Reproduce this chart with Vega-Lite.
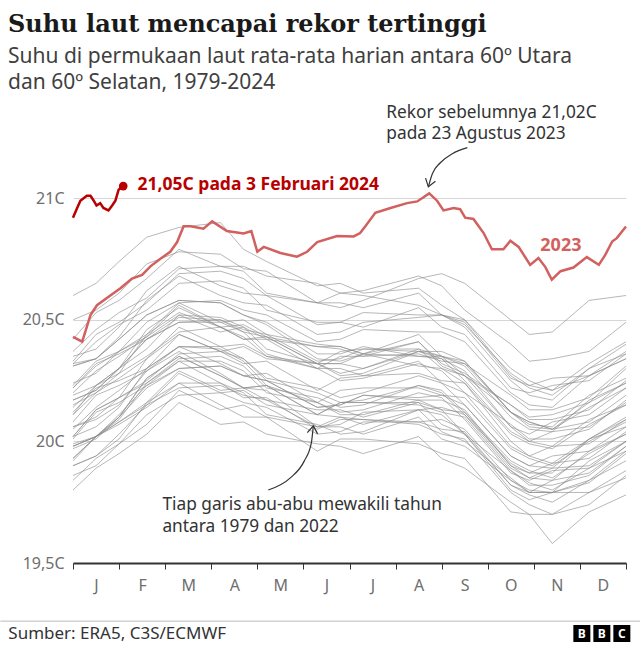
{
"$schema": "https://vega.github.io/schema/vega-lite/v6.json",
"width": 553, "height": 462,
"autosize": {"type": "none"},
"padding": {"left": 73, "top": 101, "right": 14, "bottom": 84},
"background": "white",
"title": {"text": "Suhu laut mencapai rekor tertinggi", "subtitle": ["Suhu di permukaan laut rata-rata harian antara 60º Utara", "dan 60º Selatan, 1979-2024"], "anchor": "start", "frame": "group", "dx": -65, "offset": 8, "font": "DejaVu Serif", "fontSize": 24, "fontWeight": "bold", "color": "#1a1a1a", "subtitleFont": "Noto Sans", "subtitleFontSize": 21, "subtitleColor": "#404040", "subtitleLineHeight": 26, "subtitlePadding": 9},
"config": {"view": {"stroke": null}, "font": "Noto Sans"},
"datasets": {
"gray": [
{"yr":1979,"m":0,"t":19.92},{"yr":1979,"m":1,"t":20.07},{"yr":1979,"m":2.3,"t":20.24},{"yr":1979,"m":3.2,"t":20.24},{"yr":1979,"m":4.2,"t":20.11},{"yr":1979,"m":5.3,"t":20.07},{"yr":1979,"m":6.3,"t":20.04},{"yr":1979,"m":7.5,"t":20.13},{"yr":1979,"m":8.5,"t":20.03},{"yr":1979,"m":9.5,"t":19.82},{"yr":1979,"m":10.4,"t":19.84},{"yr":1979,"m":11.2,"t":19.87},{"yr":1979,"m":12,"t":19.98},
{"yr":1980,"m":0,"t":19.98},{"yr":1980,"m":1,"t":20.10},{"yr":1980,"m":2.3,"t":20.35},{"yr":1980,"m":3.2,"t":20.27},{"yr":1980,"m":4.2,"t":20.23},{"yr":1980,"m":5.3,"t":20.11},{"yr":1980,"m":6.3,"t":20.16},{"yr":1980,"m":7.5,"t":20.15},{"yr":1980,"m":8.5,"t":20.10},{"yr":1980,"m":9.5,"t":19.88},{"yr":1980,"m":10.4,"t":19.80},{"yr":1980,"m":11.2,"t":19.89},{"yr":1980,"m":12,"t":19.96},
{"yr":1981,"m":0,"t":19.93},{"yr":1981,"m":1,"t":20.08},{"yr":1981,"m":2.3,"t":20.28},{"yr":1981,"m":3.2,"t":20.20},{"yr":1981,"m":4.2,"t":20.15},{"yr":1981,"m":5.3,"t":20.11},{"yr":1981,"m":6.3,"t":20.07},{"yr":1981,"m":7.5,"t":20.13},{"yr":1981,"m":8.5,"t":20.00},{"yr":1981,"m":9.5,"t":19.85},{"yr":1981,"m":10.4,"t":19.79},{"yr":1981,"m":11.2,"t":19.83},{"yr":1981,"m":12,"t":19.95},
{"yr":1982,"m":0,"t":19.90},{"yr":1982,"m":1,"t":20.03},{"yr":1982,"m":2.3,"t":20.22},{"yr":1982,"m":3.2,"t":20.23},{"yr":1982,"m":4.2,"t":20.17},{"yr":1982,"m":5.3,"t":20.06},{"yr":1982,"m":6.3,"t":20.12},{"yr":1982,"m":7.5,"t":20.13},{"yr":1982,"m":8.5,"t":20.11},{"yr":1982,"m":9.5,"t":19.91},{"yr":1982,"m":10.4,"t":19.87},{"yr":1982,"m":11.2,"t":20.01},{"yr":1982,"m":12,"t":20.10},
{"yr":1983,"m":0,"t":20.12},{"yr":1983,"m":1,"t":20.25},{"yr":1983,"m":2.3,"t":20.39},{"yr":1983,"m":3.2,"t":20.38},{"yr":1983,"m":4.2,"t":20.23},{"yr":1983,"m":5.3,"t":20.16},{"yr":1983,"m":6.3,"t":20.11},{"yr":1983,"m":7.5,"t":20.17},{"yr":1983,"m":8.5,"t":20.03},{"yr":1983,"m":9.5,"t":19.80},{"yr":1983,"m":10.4,"t":19.79},{"yr":1983,"m":11.2,"t":19.79},{"yr":1983,"m":12,"t":19.88},
{"yr":1984,"m":0,"t":19.90},{"yr":1984,"m":1,"t":20.01},{"yr":1984,"m":2.3,"t":20.24},{"yr":1984,"m":3.2,"t":20.15},{"yr":1984,"m":4.2,"t":20.10},{"yr":1984,"m":5.3,"t":19.96},{"yr":1984,"m":6.3,"t":20.01},{"yr":1984,"m":7.5,"t":19.99},{"yr":1984,"m":8.5,"t":19.93},{"yr":1984,"m":9.5,"t":19.71},{"yr":1984,"m":10.4,"t":19.58},{"yr":1984,"m":11.2,"t":19.71},{"yr":1984,"m":12,"t":19.78},
{"yr":1985,"m":0,"t":19.80},{"yr":1985,"m":1,"t":19.95},{"yr":1985,"m":2.3,"t":20.16},{"yr":1985,"m":3.2,"t":20.07},{"yr":1985,"m":4.2,"t":20.03},{"yr":1985,"m":5.3,"t":19.99},{"yr":1985,"m":6.3,"t":19.95},{"yr":1985,"m":7.5,"t":20.02},{"yr":1985,"m":8.5,"t":19.89},{"yr":1985,"m":9.5,"t":19.75},{"yr":1985,"m":10.4,"t":19.70},{"yr":1985,"m":11.2,"t":19.74},{"yr":1985,"m":12,"t":19.86},
{"yr":1986,"m":0,"t":19.86},{"yr":1986,"m":1,"t":19.99},{"yr":1986,"m":2.3,"t":20.19},{"yr":1986,"m":3.2,"t":20.20},{"yr":1986,"m":4.2,"t":20.14},{"yr":1986,"m":5.3,"t":20.03},{"yr":1986,"m":6.3,"t":20.08},{"yr":1986,"m":7.5,"t":20.08},{"yr":1986,"m":8.5,"t":20.05},{"yr":1986,"m":9.5,"t":19.84},{"yr":1986,"m":10.4,"t":19.79},{"yr":1986,"m":11.2,"t":19.92},{"yr":1986,"m":12,"t":20.00},
{"yr":1987,"m":0,"t":20.02},{"yr":1987,"m":1,"t":20.18},{"yr":1987,"m":2.3,"t":20.36},{"yr":1987,"m":3.2,"t":20.37},{"yr":1987,"m":4.2,"t":20.26},{"yr":1987,"m":5.3,"t":20.22},{"yr":1987,"m":6.3,"t":20.20},{"yr":1987,"m":7.5,"t":20.27},{"yr":1987,"m":8.5,"t":20.15},{"yr":1987,"m":9.5,"t":19.94},{"yr":1987,"m":10.4,"t":19.94},{"yr":1987,"m":11.2,"t":19.96},{"yr":1987,"m":12,"t":20.06},
{"yr":1988,"m":0,"t":20.06},{"yr":1988,"m":1,"t":20.15},{"yr":1988,"m":2.3,"t":20.37},{"yr":1988,"m":3.2,"t":20.28},{"yr":1988,"m":4.2,"t":20.21},{"yr":1988,"m":5.3,"t":20.06},{"yr":1988,"m":6.3,"t":20.09},{"yr":1988,"m":7.5,"t":20.07},{"yr":1988,"m":8.5,"t":20.01},{"yr":1988,"m":9.5,"t":19.79},{"yr":1988,"m":10.4,"t":19.70},{"yr":1988,"m":11.2,"t":19.79},{"yr":1988,"m":12,"t":19.85},
{"yr":1989,"m":0,"t":19.84},{"yr":1989,"m":1,"t":19.99},{"yr":1989,"m":2.3,"t":20.21},{"yr":1989,"m":3.2,"t":20.13},{"yr":1989,"m":4.2,"t":20.10},{"yr":1989,"m":5.3,"t":20.06},{"yr":1989,"m":6.3,"t":20.03},{"yr":1989,"m":7.5,"t":20.10},{"yr":1989,"m":8.5,"t":19.98},{"yr":1989,"m":9.5,"t":19.84},{"yr":1989,"m":10.4,"t":19.79},{"yr":1989,"m":11.2,"t":19.84},{"yr":1989,"m":12,"t":19.96},
{"yr":1990,"m":0,"t":19.98},{"yr":1990,"m":1,"t":20.11},{"yr":1990,"m":2.3,"t":20.30},{"yr":1990,"m":3.2,"t":20.31},{"yr":1990,"m":4.2,"t":20.25},{"yr":1990,"m":5.3,"t":20.14},{"yr":1990,"m":6.3,"t":20.19},{"yr":1990,"m":7.5,"t":20.17},{"yr":1990,"m":8.5,"t":20.13},{"yr":1990,"m":9.5,"t":19.90},{"yr":1990,"m":10.4,"t":19.84},{"yr":1990,"m":11.2,"t":19.96},{"yr":1990,"m":12,"t":20.03},
{"yr":1991,"m":0,"t":20.01},{"yr":1991,"m":1,"t":20.16},{"yr":1991,"m":2.3,"t":20.33},{"yr":1991,"m":3.2,"t":20.33},{"yr":1991,"m":4.2,"t":20.20},{"yr":1991,"m":5.3,"t":20.16},{"yr":1991,"m":6.3,"t":20.13},{"yr":1991,"m":7.5,"t":20.20},{"yr":1991,"m":8.5,"t":20.09},{"yr":1991,"m":9.5,"t":19.87},{"yr":1991,"m":10.4,"t":19.88},{"yr":1991,"m":11.2,"t":19.89},{"yr":1991,"m":12,"t":20.00},
{"yr":1992,"m":0,"t":19.99},{"yr":1992,"m":1,"t":20.09},{"yr":1992,"m":2.3,"t":20.33},{"yr":1992,"m":3.2,"t":20.24},{"yr":1992,"m":4.2,"t":20.18},{"yr":1992,"m":5.3,"t":20.05},{"yr":1992,"m":6.3,"t":20.09},{"yr":1992,"m":7.5,"t":20.08},{"yr":1992,"m":8.5,"t":20.04},{"yr":1992,"m":9.5,"t":19.82},{"yr":1992,"m":10.4,"t":19.75},{"yr":1992,"m":11.2,"t":19.84},{"yr":1992,"m":12,"t":19.92},
{"yr":1993,"m":0,"t":19.93},{"yr":1993,"m":1,"t":20.08},{"yr":1993,"m":2.3,"t":20.29},{"yr":1993,"m":3.2,"t":20.21},{"yr":1993,"m":4.2,"t":20.17},{"yr":1993,"m":5.3,"t":20.13},{"yr":1993,"m":6.3,"t":20.10},{"yr":1993,"m":7.5,"t":20.16},{"yr":1993,"m":8.5,"t":20.03},{"yr":1993,"m":9.5,"t":19.88},{"yr":1993,"m":10.4,"t":19.82},{"yr":1993,"m":11.2,"t":19.86},{"yr":1993,"m":12,"t":19.98},
{"yr":1994,"m":0,"t":19.97},{"yr":1994,"m":1,"t":20.10},{"yr":1994,"m":2.3,"t":20.30},{"yr":1994,"m":3.2,"t":20.31},{"yr":1994,"m":4.2,"t":20.25},{"yr":1994,"m":5.3,"t":20.14},{"yr":1994,"m":6.3,"t":20.19},{"yr":1994,"m":7.5,"t":20.18},{"yr":1994,"m":8.5,"t":20.15},{"yr":1994,"m":9.5,"t":19.94},{"yr":1994,"m":10.4,"t":19.89},{"yr":1994,"m":11.2,"t":20.01},{"yr":1994,"m":12,"t":20.09},
{"yr":1995,"m":0,"t":20.08},{"yr":1995,"m":1,"t":20.23},{"yr":1995,"m":2.3,"t":20.39},{"yr":1995,"m":3.2,"t":20.39},{"yr":1995,"m":4.2,"t":20.25},{"yr":1995,"m":5.3,"t":20.20},{"yr":1995,"m":6.3,"t":20.17},{"yr":1995,"m":7.5,"t":20.23},{"yr":1995,"m":8.5,"t":20.11},{"yr":1995,"m":9.5,"t":19.89},{"yr":1995,"m":10.4,"t":19.89},{"yr":1995,"m":11.2,"t":19.90},{"yr":1995,"m":12,"t":20.00},
{"yr":1996,"m":0,"t":19.98},{"yr":1996,"m":1,"t":20.10},{"yr":1996,"m":2.3,"t":20.35},{"yr":1996,"m":3.2,"t":20.27},{"yr":1996,"m":4.2,"t":20.23},{"yr":1996,"m":5.3,"t":20.11},{"yr":1996,"m":6.3,"t":20.16},{"yr":1996,"m":7.5,"t":20.16},{"yr":1996,"m":8.5,"t":20.12},{"yr":1996,"m":9.5,"t":19.92},{"yr":1996,"m":10.4,"t":19.85},{"yr":1996,"m":11.2,"t":19.95},{"yr":1996,"m":12,"t":20.03},
{"yr":1997,"m":0,"t":20.05},{"yr":1997,"m":1,"t":20.21},{"yr":1997,"m":2.3,"t":20.44},{"yr":1997,"m":3.2,"t":20.37},{"yr":1997,"m":4.2,"t":20.34},{"yr":1997,"m":5.3,"t":20.32},{"yr":1997,"m":6.3,"t":20.30},{"yr":1997,"m":7.5,"t":20.38},{"yr":1997,"m":8.5,"t":20.27},{"yr":1997,"m":9.5,"t":20.15},{"yr":1997,"m":10.4,"t":20.11},{"yr":1997,"m":11.2,"t":20.16},{"yr":1997,"m":12,"t":20.30},
{"yr":1998,"m":0,"t":20.32},{"yr":1998,"m":1,"t":20.42},{"yr":1998,"m":2.3,"t":20.58},{"yr":1998,"m":3.2,"t":20.57},{"yr":1998,"m":4.2,"t":20.48},{"yr":1998,"m":5.3,"t":20.34},{"yr":1998,"m":6.3,"t":20.36},{"yr":1998,"m":7.5,"t":20.31},{"yr":1998,"m":8.5,"t":20.24},{"yr":1998,"m":9.5,"t":20.00},{"yr":1998,"m":10.4,"t":19.91},{"yr":1998,"m":11.2,"t":20.01},{"yr":1998,"m":12,"t":20.06},
{"yr":1999,"m":0,"t":20.02},{"yr":1999,"m":1,"t":20.18},{"yr":1999,"m":2.3,"t":20.34},{"yr":1999,"m":3.2,"t":20.35},{"yr":1999,"m":4.2,"t":20.22},{"yr":1999,"m":5.3,"t":20.18},{"yr":1999,"m":6.3,"t":20.15},{"yr":1999,"m":7.5,"t":20.23},{"yr":1999,"m":8.5,"t":20.12},{"yr":1999,"m":9.5,"t":19.90},{"yr":1999,"m":10.4,"t":19.91},{"yr":1999,"m":11.2,"t":19.93},{"yr":1999,"m":12,"t":20.04},
{"yr":2000,"m":0,"t":20.02},{"yr":2000,"m":1,"t":20.14},{"yr":2000,"m":2.3,"t":20.39},{"yr":2000,"m":3.2,"t":20.32},{"yr":2000,"m":4.2,"t":20.28},{"yr":2000,"m":5.3,"t":20.16},{"yr":2000,"m":6.3,"t":20.22},{"yr":2000,"m":7.5,"t":20.22},{"yr":2000,"m":8.5,"t":20.18},{"yr":2000,"m":9.5,"t":19.97},{"yr":2000,"m":10.4,"t":19.90},{"yr":2000,"m":11.2,"t":20.00},{"yr":2000,"m":12,"t":20.08},
{"yr":2001,"m":0,"t":20.11},{"yr":2001,"m":1,"t":20.26},{"yr":2001,"m":2.3,"t":20.47},{"yr":2001,"m":3.2,"t":20.39},{"yr":2001,"m":4.2,"t":20.35},{"yr":2001,"m":5.3,"t":20.30},{"yr":2001,"m":6.3,"t":20.27},{"yr":2001,"m":7.5,"t":20.33},{"yr":2001,"m":8.5,"t":20.20},{"yr":2001,"m":9.5,"t":20.07},{"yr":2001,"m":10.4,"t":20.01},{"yr":2001,"m":11.2,"t":20.05},{"yr":2001,"m":12,"t":20.17},
{"yr":2002,"m":0,"t":20.17},{"yr":2002,"m":1,"t":20.30},{"yr":2002,"m":2.3,"t":20.49},{"yr":2002,"m":3.2,"t":20.49},{"yr":2002,"m":4.2,"t":20.43},{"yr":2002,"m":5.3,"t":20.32},{"yr":2002,"m":6.3,"t":20.36},{"yr":2002,"m":7.5,"t":20.35},{"yr":2002,"m":8.5,"t":20.31},{"yr":2002,"m":9.5,"t":20.10},{"yr":2002,"m":10.4,"t":20.04},{"yr":2002,"m":11.2,"t":20.17},{"yr":2002,"m":12,"t":20.24},
{"yr":2003,"m":0,"t":20.23},{"yr":2003,"m":1,"t":20.37},{"yr":2003,"m":2.3,"t":20.52},{"yr":2003,"m":3.2,"t":20.51},{"yr":2003,"m":4.2,"t":20.38},{"yr":2003,"m":5.3,"t":20.32},{"yr":2003,"m":6.3,"t":20.28},{"yr":2003,"m":7.5,"t":20.37},{"yr":2003,"m":8.5,"t":20.27},{"yr":2003,"m":9.5,"t":20.06},{"yr":2003,"m":10.4,"t":20.08},{"yr":2003,"m":11.2,"t":20.11},{"yr":2003,"m":12,"t":20.22},
{"yr":2004,"m":0,"t":20.19},{"yr":2004,"m":1,"t":20.30},{"yr":2004,"m":2.3,"t":20.55},{"yr":2004,"m":3.2,"t":20.47},{"yr":2004,"m":4.2,"t":20.42},{"yr":2004,"m":5.3,"t":20.30},{"yr":2004,"m":6.3,"t":20.35},{"yr":2004,"m":7.5,"t":20.36},{"yr":2004,"m":8.5,"t":20.32},{"yr":2004,"m":9.5,"t":20.12},{"yr":2004,"m":10.4,"t":20.05},{"yr":2004,"m":11.2,"t":20.16},{"yr":2004,"m":12,"t":20.24},
{"yr":2005,"m":0,"t":20.22},{"yr":2005,"m":1,"t":20.37},{"yr":2005,"m":2.3,"t":20.57},{"yr":2005,"m":3.2,"t":20.49},{"yr":2005,"m":4.2,"t":20.44},{"yr":2005,"m":5.3,"t":20.40},{"yr":2005,"m":6.3,"t":20.36},{"yr":2005,"m":7.5,"t":20.41},{"yr":2005,"m":8.5,"t":20.27},{"yr":2005,"m":9.5,"t":20.12},{"yr":2005,"m":10.4,"t":20.05},{"yr":2005,"m":11.2,"t":20.08},{"yr":2005,"m":12,"t":20.19},
{"yr":2006,"m":0,"t":20.17},{"yr":2006,"m":1,"t":20.30},{"yr":2006,"m":2.3,"t":20.49},{"yr":2006,"m":3.2,"t":20.50},{"yr":2006,"m":4.2,"t":20.44},{"yr":2006,"m":5.3,"t":20.33},{"yr":2006,"m":6.3,"t":20.38},{"yr":2006,"m":7.5,"t":20.37},{"yr":2006,"m":8.5,"t":20.33},{"yr":2006,"m":9.5,"t":20.12},{"yr":2006,"m":10.4,"t":20.06},{"yr":2006,"m":11.2,"t":20.19},{"yr":2006,"m":12,"t":20.26},
{"yr":2007,"m":0,"t":20.22},{"yr":2007,"m":1,"t":20.36},{"yr":2007,"m":2.3,"t":20.51},{"yr":2007,"m":3.2,"t":20.50},{"yr":2007,"m":4.2,"t":20.36},{"yr":2007,"m":5.3,"t":20.30},{"yr":2007,"m":6.3,"t":20.26},{"yr":2007,"m":7.5,"t":20.32},{"yr":2007,"m":8.5,"t":20.20},{"yr":2007,"m":9.5,"t":19.98},{"yr":2007,"m":10.4,"t":19.98},{"yr":2007,"m":11.2,"t":19.99},{"yr":2007,"m":12,"t":20.09},
{"yr":2008,"m":0,"t":20.06},{"yr":2008,"m":1,"t":20.18},{"yr":2008,"m":2.3,"t":20.44},{"yr":2008,"m":3.2,"t":20.37},{"yr":2008,"m":4.2,"t":20.33},{"yr":2008,"m":5.3,"t":20.21},{"yr":2008,"m":6.3,"t":20.27},{"yr":2008,"m":7.5,"t":20.28},{"yr":2008,"m":8.5,"t":20.24},{"yr":2008,"m":9.5,"t":20.03},{"yr":2008,"m":10.4,"t":19.97},{"yr":2008,"m":11.2,"t":20.07},{"yr":2008,"m":12,"t":20.15},
{"yr":2009,"m":0,"t":20.14},{"yr":2009,"m":1,"t":20.30},{"yr":2009,"m":2.3,"t":20.52},{"yr":2009,"m":3.2,"t":20.45},{"yr":2009,"m":4.2,"t":20.42},{"yr":2009,"m":5.3,"t":20.39},{"yr":2009,"m":6.3,"t":20.36},{"yr":2009,"m":7.5,"t":20.44},{"yr":2009,"m":8.5,"t":20.32},{"yr":2009,"m":9.5,"t":20.19},{"yr":2009,"m":10.4,"t":20.13},{"yr":2009,"m":11.2,"t":20.18},{"yr":2009,"m":12,"t":20.31},
{"yr":2010,"m":0,"t":20.31},{"yr":2010,"m":1,"t":20.42},{"yr":2010,"m":2.3,"t":20.58},{"yr":2010,"m":3.2,"t":20.57},{"yr":2010,"m":4.2,"t":20.49},{"yr":2010,"m":5.3,"t":20.36},{"yr":2010,"m":6.3,"t":20.39},{"yr":2010,"m":7.5,"t":20.35},{"yr":2010,"m":8.5,"t":20.29},{"yr":2010,"m":9.5,"t":20.06},{"yr":2010,"m":10.4,"t":19.98},{"yr":2010,"m":11.2,"t":20.09},{"yr":2010,"m":12,"t":20.15},
{"yr":2011,"m":0,"t":20.11},{"yr":2011,"m":1,"t":20.28},{"yr":2011,"m":2.3,"t":20.45},{"yr":2011,"m":3.2,"t":20.47},{"yr":2011,"m":4.2,"t":20.35},{"yr":2011,"m":5.3,"t":20.32},{"yr":2011,"m":6.3,"t":20.30},{"yr":2011,"m":7.5,"t":20.37},{"yr":2011,"m":8.5,"t":20.25},{"yr":2011,"m":9.5,"t":20.04},{"yr":2011,"m":10.4,"t":20.04},{"yr":2011,"m":11.2,"t":20.06},{"yr":2011,"m":12,"t":20.16},
{"yr":2012,"m":0,"t":20.15},{"yr":2012,"m":1,"t":20.28},{"yr":2012,"m":2.3,"t":20.53},{"yr":2012,"m":3.2,"t":20.47},{"yr":2012,"m":4.2,"t":20.43},{"yr":2012,"m":5.3,"t":20.32},{"yr":2012,"m":6.3,"t":20.38},{"yr":2012,"m":7.5,"t":20.38},{"yr":2012,"m":8.5,"t":20.33},{"yr":2012,"m":9.5,"t":20.12},{"yr":2012,"m":10.4,"t":20.05},{"yr":2012,"m":11.2,"t":20.14},{"yr":2012,"m":12,"t":20.22},
{"yr":2013,"m":0,"t":20.20},{"yr":2013,"m":1,"t":20.35},{"yr":2013,"m":2.3,"t":20.56},{"yr":2013,"m":3.2,"t":20.47},{"yr":2013,"m":4.2,"t":20.43},{"yr":2013,"m":5.3,"t":20.39},{"yr":2013,"m":6.3,"t":20.35},{"yr":2013,"m":7.5,"t":20.41},{"yr":2013,"m":8.5,"t":20.28},{"yr":2013,"m":9.5,"t":20.15},{"yr":2013,"m":10.4,"t":20.09},{"yr":2013,"m":11.2,"t":20.13},{"yr":2013,"m":12,"t":20.25},
{"yr":2014,"m":0,"t":20.24},{"yr":2014,"m":1,"t":20.37},{"yr":2014,"m":2.3,"t":20.57},{"yr":2014,"m":3.2,"t":20.58},{"yr":2014,"m":4.2,"t":20.52},{"yr":2014,"m":5.3,"t":20.41},{"yr":2014,"m":6.3,"t":20.46},{"yr":2014,"m":7.5,"t":20.45},{"yr":2014,"m":8.5,"t":20.41},{"yr":2014,"m":9.5,"t":20.20},{"yr":2014,"m":10.4,"t":20.14},{"yr":2014,"m":11.2,"t":20.27},{"yr":2014,"m":12,"t":20.34},
{"yr":2015,"m":0,"t":20.33},{"yr":2015,"m":1,"t":20.49},{"yr":2015,"m":2.3,"t":20.69},{"yr":2015,"m":3.2,"t":20.70},{"yr":2015,"m":4.2,"t":20.60},{"yr":2015,"m":5.3,"t":20.57},{"yr":2015,"m":6.3,"t":20.58},{"yr":2015,"m":7.5,"t":20.67},{"yr":2015,"m":8.5,"t":20.65},{"yr":2015,"m":9.5,"t":20.50},{"yr":2015,"m":10.4,"t":20.45},{"yr":2015,"m":11.2,"t":20.58},{"yr":2015,"m":12,"t":20.60},
{"yr":2016,"m":0,"t":20.60},{"yr":2016,"m":1,"t":20.74},{"yr":2016,"m":2.3,"t":20.88},{"yr":2016,"m":3.2,"t":20.90},{"yr":2016,"m":4.2,"t":20.74},{"yr":2016,"m":5.3,"t":20.64},{"yr":2016,"m":6.3,"t":20.61},{"yr":2016,"m":7.5,"t":20.63},{"yr":2016,"m":8.5,"t":20.50},{"yr":2016,"m":9.5,"t":20.30},{"yr":2016,"m":10.4,"t":20.21},{"yr":2016,"m":11.2,"t":20.27},{"yr":2016,"m":12,"t":20.34},
{"yr":2017,"m":0,"t":20.37},{"yr":2017,"m":1,"t":20.53},{"yr":2017,"m":2.3,"t":20.71},{"yr":2017,"m":3.2,"t":20.72},{"yr":2017,"m":4.2,"t":20.61},{"yr":2017,"m":5.3,"t":20.57},{"yr":2017,"m":6.3,"t":20.55},{"yr":2017,"m":7.5,"t":20.61},{"yr":2017,"m":8.5,"t":20.49},{"yr":2017,"m":9.5,"t":20.26},{"yr":2017,"m":10.4,"t":20.26},{"yr":2017,"m":11.2,"t":20.27},{"yr":2017,"m":12,"t":20.37},
{"yr":2018,"m":0,"t":20.31},{"yr":2018,"m":1,"t":20.43},{"yr":2018,"m":2.3,"t":20.68},{"yr":2018,"m":3.2,"t":20.60},{"yr":2018,"m":4.2,"t":20.56},{"yr":2018,"m":5.3,"t":20.44},{"yr":2018,"m":6.3,"t":20.49},{"yr":2018,"m":7.5,"t":20.51},{"yr":2018,"m":8.5,"t":20.48},{"yr":2018,"m":9.5,"t":20.28},{"yr":2018,"m":10.4,"t":20.21},{"yr":2018,"m":11.2,"t":20.32},{"yr":2018,"m":12,"t":20.41},
{"yr":2019,"m":0,"t":20.42},{"yr":2019,"m":1,"t":20.58},{"yr":2019,"m":2.3,"t":20.79},{"yr":2019,"m":3.2,"t":20.72},{"yr":2019,"m":4.2,"t":20.68},{"yr":2019,"m":5.3,"t":20.65},{"yr":2019,"m":6.3,"t":20.62},{"yr":2019,"m":7.5,"t":20.68},{"yr":2019,"m":8.5,"t":20.54},{"yr":2019,"m":9.5,"t":20.40},{"yr":2019,"m":10.4,"t":20.34},{"yr":2019,"m":11.2,"t":20.37},{"yr":2019,"m":12,"t":20.49},
{"yr":2020,"m":0,"t":20.50},{"yr":2020,"m":1,"t":20.61},{"yr":2020,"m":2.3,"t":20.78},{"yr":2020,"m":3.2,"t":20.77},{"yr":2020,"m":4.2,"t":20.70},{"yr":2020,"m":5.3,"t":20.57},{"yr":2020,"m":6.3,"t":20.60},{"yr":2020,"m":7.5,"t":20.56},{"yr":2020,"m":8.5,"t":20.50},{"yr":2020,"m":9.5,"t":20.27},{"yr":2020,"m":10.4,"t":20.19},{"yr":2020,"m":11.2,"t":20.30},{"yr":2020,"m":12,"t":20.36},
{"yr":2021,"m":0,"t":20.32},{"yr":2021,"m":1,"t":20.48},{"yr":2021,"m":2.3,"t":20.65},{"yr":2021,"m":3.2,"t":20.66},{"yr":2021,"m":4.2,"t":20.54},{"yr":2021,"m":5.3,"t":20.49},{"yr":2021,"m":6.3,"t":20.47},{"yr":2021,"m":7.5,"t":20.55},{"yr":2021,"m":8.5,"t":20.44},{"yr":2021,"m":9.5,"t":20.22},{"yr":2021,"m":10.4,"t":20.23},{"yr":2021,"m":11.2,"t":20.25},{"yr":2021,"m":12,"t":20.36},
{"yr":2022,"m":0,"t":20.35},{"yr":2022,"m":1,"t":20.47},{"yr":2022,"m":2.3,"t":20.72},{"yr":2022,"m":3.2,"t":20.64},{"yr":2022,"m":4.2,"t":20.60},{"yr":2022,"m":5.3,"t":20.48},{"yr":2022,"m":6.3,"t":20.53},{"yr":2022,"m":7.5,"t":20.52},{"yr":2022,"m":8.5,"t":20.47},{"yr":2022,"m":9.5,"t":20.25},{"yr":2022,"m":10.4,"t":20.17},{"yr":2022,"m":11.2,"t":20.30},{"yr":2022,"m":12,"t":20.40},
{"yr":1979,"m":0.5,"t":20.02},{"yr":1979,"m":1.6,"t":20.14},{"yr":1979,"m":3.7,"t":20.20},{"yr":1979,"m":5.8,"t":20.03},{"yr":1979,"m":8,"t":20.11},{"yr":1979,"m":9.9,"t":19.79},
{"yr":1980,"m":0.5,"t":20.02},{"yr":1980,"m":1.6,"t":20.26},{"yr":1980,"m":3.7,"t":20.22},{"yr":1980,"m":5.8,"t":20.16},{"yr":1980,"m":8,"t":20.12},{"yr":1980,"m":9.9,"t":19.83},
{"yr":1981,"m":0.5,"t":20.02},{"yr":1981,"m":1.6,"t":20.15},{"yr":1981,"m":3.7,"t":20.21},{"yr":1981,"m":5.8,"t":20.10},{"yr":1981,"m":8,"t":20.04},{"yr":1981,"m":9.9,"t":19.79},
{"yr":1982,"m":0.5,"t":19.94},{"yr":1982,"m":1.6,"t":20.15},{"yr":1982,"m":3.7,"t":20.19},{"yr":1982,"m":5.8,"t":20.07},{"yr":1982,"m":8,"t":20.14},{"yr":1982,"m":9.9,"t":19.87},
{"yr":1983,"m":0.5,"t":20.22},{"yr":1983,"m":1.6,"t":20.30},{"yr":1983,"m":3.7,"t":20.33},{"yr":1983,"m":5.8,"t":20.11},{"yr":1983,"m":8,"t":20.13},{"yr":1983,"m":9.9,"t":19.76},
{"yr":1984,"m":0.5,"t":19.94},{"yr":1984,"m":1.6,"t":20.16},{"yr":1984,"m":3.7,"t":20.10},{"yr":1984,"m":5.8,"t":20.01},{"yr":1984,"m":8,"t":19.95},{"yr":1984,"m":9.9,"t":19.70},
{"yr":1985,"m":0.5,"t":19.89},{"yr":1985,"m":1.6,"t":20.03},{"yr":1985,"m":3.7,"t":20.08},{"yr":1985,"m":5.8,"t":19.98},{"yr":1985,"m":8,"t":19.93},{"yr":1985,"m":9.9,"t":19.70},
{"yr":1986,"m":0.5,"t":19.90},{"yr":1986,"m":1.6,"t":20.11},{"yr":1986,"m":3.7,"t":20.16},{"yr":1986,"m":5.8,"t":20.04},{"yr":1986,"m":8,"t":20.09},{"yr":1986,"m":9.9,"t":19.80},
{"yr":1987,"m":0.5,"t":20.13},{"yr":1987,"m":1.6,"t":20.25},{"yr":1987,"m":3.7,"t":20.34},{"yr":1987,"m":5.8,"t":20.18},{"yr":1987,"m":8,"t":20.24},{"yr":1987,"m":9.9,"t":19.90},
{"yr":1988,"m":0.5,"t":20.09},{"yr":1988,"m":1.6,"t":20.29},{"yr":1988,"m":3.7,"t":20.22},{"yr":1988,"m":5.8,"t":20.10},{"yr":1988,"m":8,"t":20.03},{"yr":1988,"m":9.9,"t":19.74},
{"yr":1989,"m":0.5,"t":19.93},{"yr":1989,"m":1.6,"t":20.07},{"yr":1989,"m":3.7,"t":20.15},{"yr":1989,"m":5.8,"t":20.06},{"yr":1989,"m":8,"t":20.01},{"yr":1989,"m":9.9,"t":19.79},
{"yr":1990,"m":0.5,"t":20.02},{"yr":1990,"m":1.6,"t":20.23},{"yr":1990,"m":3.7,"t":20.27},{"yr":1990,"m":5.8,"t":20.15},{"yr":1990,"m":8,"t":20.17},{"yr":1990,"m":9.9,"t":19.85},
{"yr":1991,"m":0.5,"t":20.12},{"yr":1991,"m":1.6,"t":20.23},{"yr":1991,"m":3.7,"t":20.29},{"yr":1991,"m":5.8,"t":20.12},{"yr":1991,"m":8,"t":20.18},{"yr":1991,"m":9.9,"t":19.84},
{"yr":1992,"m":0.5,"t":20.02},{"yr":1992,"m":1.6,"t":20.24},{"yr":1992,"m":3.7,"t":20.18},{"yr":1992,"m":5.8,"t":20.09},{"yr":1992,"m":8,"t":20.05},{"yr":1992,"m":9.9,"t":19.78},
{"yr":1993,"m":0.5,"t":20.02},{"yr":1993,"m":1.6,"t":20.16},{"yr":1993,"m":3.7,"t":20.22},{"yr":1993,"m":5.8,"t":20.13},{"yr":1993,"m":8,"t":20.07},{"yr":1993,"m":9.9,"t":19.82},
{"yr":1994,"m":0.5,"t":20.01},{"yr":1994,"m":1.6,"t":20.22},{"yr":1994,"m":3.7,"t":20.27},{"yr":1994,"m":5.8,"t":20.15},{"yr":1994,"m":8,"t":20.19},{"yr":1994,"m":9.9,"t":19.90},
{"yr":1995,"m":0.5,"t":20.19},{"yr":1995,"m":1.6,"t":20.29},{"yr":1995,"m":3.7,"t":20.34},{"yr":1995,"m":5.8,"t":20.16},{"yr":1995,"m":8,"t":20.20},{"yr":1995,"m":9.9,"t":19.85},
{"yr":1996,"m":0.5,"t":20.02},{"yr":1996,"m":1.6,"t":20.26},{"yr":1996,"m":3.7,"t":20.22},{"yr":1996,"m":5.8,"t":20.16},{"yr":1996,"m":8,"t":20.13},{"yr":1996,"m":9.9,"t":19.88},
{"yr":1997,"m":0.5,"t":20.14},{"yr":1997,"m":1.6,"t":20.30},{"yr":1997,"m":3.7,"t":20.39},{"yr":1997,"m":5.8,"t":20.32},{"yr":1997,"m":8,"t":20.30},{"yr":1997,"m":9.9,"t":20.10},
{"yr":1998,"m":0.5,"t":20.34},{"yr":1998,"m":1.6,"t":20.52},{"yr":1998,"m":3.7,"t":20.52},{"yr":1998,"m":5.8,"t":20.33},{"yr":1998,"m":8,"t":20.30},{"yr":1998,"m":9.9,"t":19.94},
{"yr":1999,"m":0.5,"t":20.13},{"yr":1999,"m":1.6,"t":20.24},{"yr":1999,"m":3.7,"t":20.31},{"yr":1999,"m":5.8,"t":20.14},{"yr":1999,"m":8,"t":20.21},{"yr":1999,"m":9.9,"t":19.87},
{"yr":2000,"m":0.5,"t":20.06},{"yr":2000,"m":1.6,"t":20.30},{"yr":2000,"m":3.7,"t":20.27},{"yr":2000,"m":5.8,"t":20.21},{"yr":2000,"m":8,"t":20.19},{"yr":2000,"m":9.9,"t":19.93},
{"yr":2001,"m":0.5,"t":20.20},{"yr":2001,"m":1.6,"t":20.34},{"yr":2001,"m":3.7,"t":20.40},{"yr":2001,"m":5.8,"t":20.30},{"yr":2001,"m":8,"t":20.24},{"yr":2001,"m":9.9,"t":20.01},
{"yr":2002,"m":0.5,"t":20.21},{"yr":2002,"m":1.6,"t":20.42},{"yr":2002,"m":3.7,"t":20.45},{"yr":2002,"m":5.8,"t":20.32},{"yr":2002,"m":8,"t":20.35},{"yr":2002,"m":9.9,"t":20.05},
{"yr":2003,"m":0.5,"t":20.33},{"yr":2003,"m":1.6,"t":20.43},{"yr":2003,"m":3.7,"t":20.47},{"yr":2003,"m":5.8,"t":20.27},{"yr":2003,"m":8,"t":20.35},{"yr":2003,"m":9.9,"t":20.03},
{"yr":2004,"m":0.5,"t":20.23},{"yr":2004,"m":1.6,"t":20.46},{"yr":2004,"m":3.7,"t":20.42},{"yr":2004,"m":5.8,"t":20.35},{"yr":2004,"m":8,"t":20.33},{"yr":2004,"m":9.9,"t":20.08},
{"yr":2005,"m":0.5,"t":20.31},{"yr":2005,"m":1.6,"t":20.44},{"yr":2005,"m":3.7,"t":20.50},{"yr":2005,"m":5.8,"t":20.39},{"yr":2005,"m":8,"t":20.31},{"yr":2005,"m":9.9,"t":20.06},
{"yr":2006,"m":0.5,"t":20.21},{"yr":2006,"m":1.6,"t":20.42},{"yr":2006,"m":3.7,"t":20.46},{"yr":2006,"m":5.8,"t":20.34},{"yr":2006,"m":8,"t":20.37},{"yr":2006,"m":9.9,"t":20.07},
{"yr":2007,"m":0.5,"t":20.32},{"yr":2007,"m":1.6,"t":20.42},{"yr":2007,"m":3.7,"t":20.45},{"yr":2007,"m":5.8,"t":20.25},{"yr":2007,"m":8,"t":20.29},{"yr":2007,"m":9.9,"t":19.94},
{"yr":2008,"m":0.5,"t":20.10},{"yr":2008,"m":1.6,"t":20.34},{"yr":2008,"m":3.7,"t":20.32},{"yr":2008,"m":5.8,"t":20.26},{"yr":2008,"m":8,"t":20.25},{"yr":2008,"m":9.9,"t":19.99},
{"yr":2009,"m":0.5,"t":20.23},{"yr":2009,"m":1.6,"t":20.38},{"yr":2009,"m":3.7,"t":20.47},{"yr":2009,"m":5.8,"t":20.39},{"yr":2009,"m":8,"t":20.35},{"yr":2009,"m":9.9,"t":20.13},
{"yr":2010,"m":0.5,"t":20.34},{"yr":2010,"m":1.6,"t":20.52},{"yr":2010,"m":3.7,"t":20.52},{"yr":2010,"m":5.8,"t":20.36},{"yr":2010,"m":8,"t":20.34},{"yr":2010,"m":9.9,"t":20.00},
{"yr":2011,"m":0.5,"t":20.23},{"yr":2011,"m":1.6,"t":20.35},{"yr":2011,"m":3.7,"t":20.43},{"yr":2011,"m":5.8,"t":20.28},{"yr":2011,"m":8,"t":20.34},{"yr":2011,"m":9.9,"t":20.00},
{"yr":2012,"m":0.5,"t":20.20},{"yr":2012,"m":1.6,"t":20.44},{"yr":2012,"m":3.7,"t":20.42},{"yr":2012,"m":5.8,"t":20.37},{"yr":2012,"m":8,"t":20.35},{"yr":2012,"m":9.9,"t":20.08},
{"yr":2013,"m":0.5,"t":20.29},{"yr":2013,"m":1.6,"t":20.43},{"yr":2013,"m":3.7,"t":20.48},{"yr":2013,"m":5.8,"t":20.38},{"yr":2013,"m":8,"t":20.32},{"yr":2013,"m":9.9,"t":20.09},
{"yr":2014,"m":0.5,"t":20.28},{"yr":2014,"m":1.6,"t":20.49},{"yr":2014,"m":3.7,"t":20.54},{"yr":2014,"m":5.8,"t":20.42},{"yr":2014,"m":8,"t":20.45},{"yr":2014,"m":9.9,"t":20.15},
{"yr":2015,"m":0.5,"t":20.44},{"yr":2015,"m":1.6,"t":20.57},{"yr":2015,"m":3.7,"t":20.67},{"yr":2015,"m":5.8,"t":20.55},{"yr":2015,"m":8,"t":20.69},{"yr":2015,"m":9.9,"t":20.44},
{"yr":2016,"m":0.5,"t":20.65},{"yr":2016,"m":1.6,"t":20.84},{"yr":2016,"m":3.7,"t":20.79},{"yr":2016,"m":5.8,"t":20.65},{"yr":2016,"m":8,"t":20.56},{"yr":2016,"m":9.9,"t":20.25},
{"yr":2017,"m":0.5,"t":20.46},{"yr":2017,"m":1.6,"t":20.59},{"yr":2017,"m":3.7,"t":20.70},{"yr":2017,"m":5.8,"t":20.57},{"yr":2017,"m":8,"t":20.52},{"yr":2017,"m":9.9,"t":20.23},
{"yr":2018,"m":0.5,"t":20.34},{"yr":2018,"m":1.6,"t":20.58},{"yr":2018,"m":3.7,"t":20.57},{"yr":2018,"m":5.8,"t":20.45},{"yr":2018,"m":8,"t":20.52},{"yr":2018,"m":9.9,"t":20.23},
{"yr":2019,"m":0.5,"t":20.53},{"yr":2019,"m":1.6,"t":20.67},{"yr":2019,"m":3.7,"t":20.72},{"yr":2019,"m":5.8,"t":20.61},{"yr":2019,"m":8,"t":20.64},{"yr":2019,"m":9.9,"t":20.33},
{"yr":2020,"m":0.5,"t":20.54},{"yr":2020,"m":1.6,"t":20.73},{"yr":2020,"m":3.7,"t":20.71},{"yr":2020,"m":5.8,"t":20.61},{"yr":2020,"m":8,"t":20.52},{"yr":2020,"m":9.9,"t":20.22},
{"yr":2021,"m":0.5,"t":20.41},{"yr":2021,"m":1.6,"t":20.54},{"yr":2021,"m":3.7,"t":20.63},{"yr":2021,"m":5.8,"t":20.49},{"yr":2021,"m":8,"t":20.47},{"yr":2021,"m":9.9,"t":20.20},
{"yr":2022,"m":0.5,"t":20.38},{"yr":2022,"m":1.6,"t":20.62},{"yr":2022,"m":3.7,"t":20.61},{"yr":2022,"m":5.8,"t":20.49},{"yr":2022,"m":8,"t":20.52},{"yr":2022,"m":9.9,"t":20.19}
],
"y2023": [
{"m":0,"t":20.43},{"m":0.2,"t":20.41},{"m":0.38,"t":20.52},{"m":0.52,"t":20.56},{"m":0.81,"t":20.6},{"m":1.03,"t":20.63},{"m":1.28,"t":20.67},{"m":1.5,"t":20.685},{"m":1.68,"t":20.72},{"m":1.89,"t":20.75},{"m":2.11,"t":20.78},{"m":2.26,"t":20.82},{"m":2.4,"t":20.885},{"m":2.55,"t":20.885},{"m":2.83,"t":20.875},{"m":3.02,"t":20.905},{"m":3.34,"t":20.865},{"m":3.7,"t":20.855},{"m":3.87,"t":20.865},{"m":4.0,"t":20.78},{"m":4.14,"t":20.8},{"m":4.5,"t":20.775},{"m":4.86,"t":20.76},{"m":5.08,"t":20.78},{"m":5.3,"t":20.82},{"m":5.73,"t":20.845},{"m":6.09,"t":20.843},{"m":6.23,"t":20.857},{"m":6.34,"t":20.884},{"m":6.56,"t":20.94},{"m":6.89,"t":20.96},{"m":7.25,"t":20.98},{"m":7.47,"t":20.987},{"m":7.73,"t":21.02},{"m":7.9,"t":20.99},{"m":8.04,"t":20.95},{"m":8.26,"t":20.96},{"m":8.4,"t":20.955},{"m":8.51,"t":20.92},{"m":8.69,"t":20.915},{"m":8.91,"t":20.857},{"m":9.09,"t":20.79},{"m":9.34,"t":20.79},{"m":9.49,"t":20.825},{"m":9.67,"t":20.8},{"m":9.92,"t":20.726},{"m":10.1,"t":20.754},{"m":10.25,"t":20.717},{"m":10.39,"t":20.665},{"m":10.58,"t":20.7},{"m":10.86,"t":20.715},{"m":11.15,"t":20.758},{"m":11.41,"t":20.726},{"m":11.55,"t":20.767},{"m":11.7,"t":20.822},{"m":11.8,"t":20.836},{"m":12,"t":20.884}
],
"y2024": [
{"m":0,"t":20.92},{"m":0.09,"t":20.96},{"m":0.16,"t":20.99},{"m":0.3,"t":21.01},{"m":0.38,"t":21.01},{"m":0.45,"t":20.99},{"m":0.51,"t":20.97},{"m":0.59,"t":20.98},{"m":0.66,"t":20.96},{"m":0.77,"t":20.95},{"m":0.85,"t":20.97},{"m":0.92,"t":20.99},{"m":0.99,"t":21.035},{"m":1.09,"t":21.05}
],
"dot": [{"m":1.09,"t":21.05}],
"lab24": [{"m":1.4,"t":21.056,"txt":"21,05C pada 3 Februari 2024"}],
"lab23": [{"m":10.14,"t":20.805,"txt":"2023"}],
"notes": [
{"m":6.8,"t":21.331,"txt":"Rekor sebelumnya 21,02C"},
{"m":6.8,"t":21.245,"txt":"pada 23 Agustus 2023"},
{"m":1.94,"t":19.718,"txt":"Tiap garis abu-abu mewakili tahun"},
{"m":1.94,"t":19.628,"txt":"antara 1979 dan 2022"}
],
"arrows": [
{"g":"a1","h":0,"m":8.557,"t":21.208},{"g":"a1","h":0,"m":8.231,"t":21.183},{"g":"a1","h":0,"m":7.971,"t":21.146},{"g":"a1","h":0,"m":7.798,"t":21.101},{"g":"a1","h":0,"m":7.711,"t":21.047},
{"g":"a1h","h":1,"m":7.65,"t":21.083},{"g":"a1h","h":1,"m":7.711,"t":21.047},{"g":"a1h","h":1,"m":7.865,"t":21.07},
{"g":"a2","h":0,"m":4.238,"t":19.8},{"g":"a2","h":0,"m":4.716,"t":19.85},{"g":"a2","h":0,"m":5.02,"t":19.92},{"g":"a2","h":0,"m":5.172,"t":19.994},{"g":"a2","h":0,"m":5.215,"t":20.064},
{"g":"a2h","h":1,"m":5.085,"t":20.036},{"g":"a2h","h":1,"m":5.215,"t":20.064},{"g":"a2h","h":1,"m":5.308,"t":20.031}
],
"sep": [{"m":-1.578,"t":19.261},{"m":12.311,"t":19.261}],
"source": [{"m":-1.404,"t":19.208,"txt":"Sumber: ERA5, C3S/ECMWF"}],
"logo": [{"m":11.042,"t":19.21,"txt":"B"},{"m":11.476,"t":19.21,"txt":"B"},{"m":11.91,"t":19.21,"txt":"C"}]
},
"encoding": {
"x": {"field": "m", "type": "quantitative", "scale": {"domain": [0, 12], "nice": false, "zero": false},
 "axis": {"values": [0,1,2,3,4,5,6,7,8,9,10,11,12], "labelExpr": "['J','F','M','A','M','J','J','A','S','O','N','D',''][datum.value]", "labelOffset": 23, "labelFlush": false, "labelOverlap": false, "labelFontSize": 16, "labelColor": "#6e6e6e", "labelPadding": 8, "tickSize": 6, "tickColor": "#333333", "domainColor": "#333333", "domainWidth": 2, "grid": false, "title": null}},
"y": {"field": "t", "type": "quantitative", "scale": {"domain": [19.5, 21.4], "nice": false, "zero": false},
 "axis": {"values": [19.5, 20, 20.5, 21], "labelExpr": "datum.value == 19.5 ? '19,5C' : datum.value == 20.5 ? '20,5C' : datum.value + 'C'", "grid": true, "gridColor": "#d6d6d6", "domain": false, "ticks": false, "labelFontSize": 16, "labelColor": "#6e6e6e", "labelPadding": 9, "labelFlush": false, "title": null}}
},
"layer": [
{"data": {"name": "gray"}, "mark": {"type": "line", "stroke": "#8c8c8c", "strokeWidth": 0.9, "opacity": 0.7}, "encoding": {"detail": {"field": "yr", "type": "nominal"}}},
{"data": {"name": "y2023"}, "mark": {"type": "line", "stroke": "#d1605e", "strokeWidth": 2.5}},
{"data": {"name": "y2024"}, "mark": {"type": "line", "stroke": "#b80000", "strokeWidth": 2.5}},
{"data": {"name": "dot"}, "mark": {"type": "point", "filled": true, "color": "#b80000", "size": 75, "opacity": 1}},
{"data": {"name": "lab24"}, "mark": {"type": "text", "align": "left", "baseline": "middle", "fontSize": 17.5, "fontWeight": "bold", "color": "#b80000"}, "encoding": {"text": {"field": "txt"}}},
{"data": {"name": "lab23"}, "mark": {"type": "text", "align": "left", "baseline": "middle", "fontSize": 18, "fontWeight": "bold", "color": "#d1605e"}, "encoding": {"text": {"field": "txt"}}},
{"data": {"name": "notes"}, "mark": {"type": "text", "align": "left", "baseline": "alphabetic", "fontSize": 17.3, "color": "#333333"}, "encoding": {"text": {"field": "txt"}}},
{"data": {"name": "arrows"}, "transform": [{"filter": "datum.h == 0"}], "mark": {"type": "line", "interpolate": "monotone", "stroke": "#333333", "strokeWidth": 1.2}, "encoding": {"detail": {"field": "g", "type": "nominal"}}},
{"data": {"name": "arrows"}, "transform": [{"filter": "datum.h == 1"}], "mark": {"type": "line", "stroke": "#333333", "strokeWidth": 1.2}, "encoding": {"detail": {"field": "g", "type": "nominal"}}},
{"data": {"name": "sep"}, "mark": {"type": "line", "stroke": "#bbbbbb", "strokeWidth": 1}},
{"data": {"name": "source"}, "mark": {"type": "text", "align": "left", "baseline": "middle", "fontSize": 17, "color": "#333333"}, "encoding": {"text": {"field": "txt"}}},
{"data": {"name": "logo"}, "mark": {"type": "point", "shape": "square", "filled": true, "color": "#000000", "size": 289, "opacity": 1}},
{"data": {"name": "logo"}, "mark": {"type": "text", "align": "center", "baseline": "middle", "fontSize": 12, "fontWeight": "bold", "color": "#ffffff"}, "encoding": {"text": {"field": "txt"}}}
]
}
